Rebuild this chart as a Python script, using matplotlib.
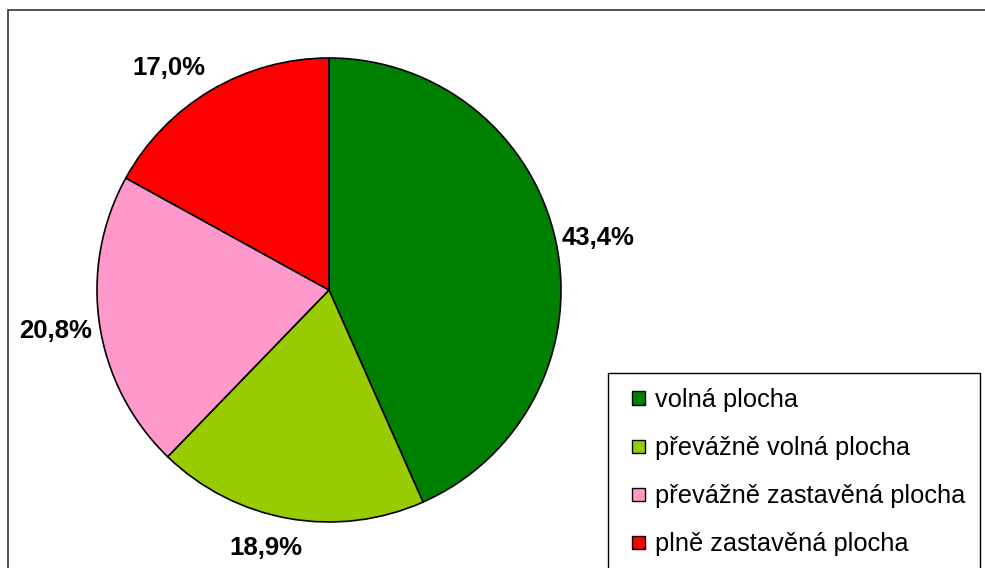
import numpy as np
import matplotlib
matplotlib.use("Agg")
import matplotlib.pyplot as plt
from matplotlib.patches import Rectangle, Patch
from matplotlib.legend_handler import HandlerBase

categories = ["volná plocha", "převážně volná plocha", "převážně zastavěná plocha", "plně zastavěná plocha"]
values = [43.4, 18.9, 20.8, 17.0]
colors = ["#008000", "#99CC00", "#FF99CC", "#FF0000"]

W, H = 985, 568
plt.rcParams['font.family'] = ['Liberation Sans', 'DejaVu Sans']
fig = plt.figure(figsize=(W / 100, H / 100), dpi=100)

# outer frame
fig.patches.append(Rectangle((8 / W, -0.1), 1.2, 1.1 - 10 / H, transform=fig.transFigure,
                             fill=False, edgecolor="#333333", linewidth=1.2))

ax = fig.add_axes([0, 0, 1, 1])
cx, cy, R = 329, H - 290, 232
labels = [f"{v:.1f}".replace('.', ',') + '%' for v in values]
wedges, texts = ax.pie(values, colors=colors, startangle=90, counterclock=False,
                       center=(cx, cy), radius=R, labels=labels, labeldistance=1.18,
                       wedgeprops=dict(edgecolor='black', linewidth=1.2),
                       textprops=dict(fontsize=18.5, fontweight='bold'), frame=True)
# label placement tweaks (best-fit style offsets)
ang_off = [-1.0, -3.7, 0.0, 5.3]
dist = [1.18, 1.146, 1.19, 1.18]
for w, t, da, d in zip(wedges, texts, ang_off, dist):
    mid = np.deg2rad((w.theta1 + w.theta2) / 2 + da)
    t.set_position((cx + d * R * np.cos(mid), cy + d * R * np.sin(mid)))
    t.set_ha('center')
    t.set_va('center')
ax.set_xlim(0, W)
ax.set_ylim(0, H)
ax.set_aspect('equal')
ax.axis('off')

SQ = 9.4  # legend square size in points


class SquareHandler(HandlerBase):
    def create_artists(self, legend, orig_handle, xdescent, ydescent, width, height,
                       fontsize, trans):
        r = Rectangle((-xdescent + width - SQ, -ydescent + (height - SQ) / 2), SQ, SQ,
                      facecolor=orig_handle.get_facecolor(), edgecolor='black',
                      linewidth=1.0, transform=trans)
        return [r]


handles = [Patch(facecolor=c, edgecolor='black', linewidth=0.8) for c in colors]
leg = fig.legend(handles, categories, loc='upper left',
                 bbox_to_anchor=(608 / W, 1 - 373 / H), fontsize=18.3,
                 frameon=True, fancybox=False, edgecolor='black', framealpha=1,
                 handlelength=0.865, handleheight=0.55, handletextpad=0.39,
                 labelspacing=0.95, borderpad=0.59, borderaxespad=0,
                 handler_map={Patch: SquareHandler()})
leg.get_frame().set_linewidth(1.0)

fig.savefig("out.png", dpi=100)
